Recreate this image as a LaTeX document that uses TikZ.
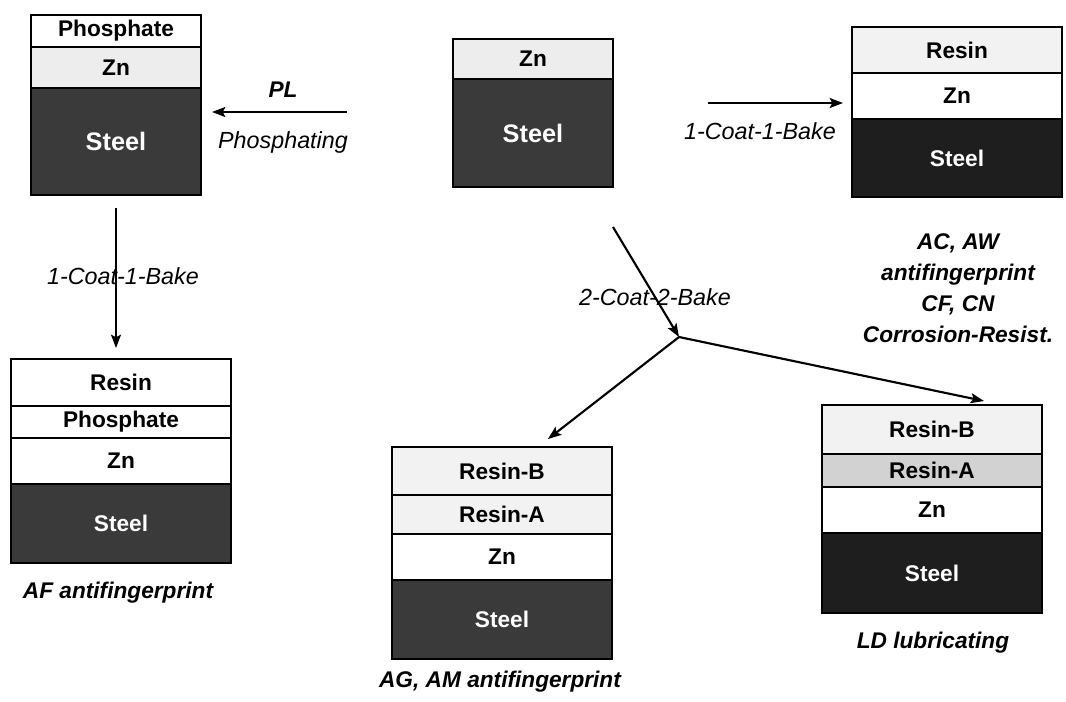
\documentclass[tikz,border=0pt]{standalone}
\usepackage{fontspec}
\setmainfont{Liberation Sans}
\usetikzlibrary{arrows.meta}
\tikzset{
  lay/.style={draw=black, line width=1.1pt, inner sep=0pt, font=\fontsize{17}{20}\selectfont\bfseries},
  conn/.style={line width=1.6pt, -{Stealth[length=10pt,width=7.5pt,inset=2pt]}},
  proc/.style={font=\fontsize{17.5}{21}\selectfont\itshape},
  capt/.style={font=\fontsize{17}{23.25}\selectfont\bfseries\itshape, align=center}
}
\definecolor{steelA}{HTML}{3A3A3A}
\definecolor{steelB}{HTML}{1E1E1E}
\definecolor{znGray}{HTML}{EDEDED}
\definecolor{resinL}{HTML}{F2F2F2}
\definecolor{resinA}{HTML}{D2D2D2}
\newcommand\layer[7]{\node[lay, fill=#6, minimum width={0.75pt*(#4-#2)}, minimum height={0.75pt*(#5-#3)}] (#1) at ({(#2+#4)/2},{(#3+#5)/2}) {#7};}
\begin{document}
\begin{tikzpicture}[x=0.75pt,y=-0.75pt]
\useasboundingbox (0,0) rectangle (1066,701);
% top-left box
\layer{tlP}{31}{15}{201}{47}{white}{Phosphate}
\layer{tlZ}{31}{47}{201}{88}{znGray}{Zn}
\layer{tlS}{31}{88}{201}{195}{steelA}{\color{white}\fontsize{19}{22}\selectfont Steel}
% top-middle box
\layer{tmZ}{453}{39}{613}{79}{znGray}{Zn}
\layer{tmS}{453}{79}{613}{187}{steelA}{\color{white}\fontsize{19}{22}\selectfont Steel}
% top-right box
\layer{trR}{852}{27}{1062}{73}{resinL}{Resin}
\layer{trZ}{852}{73}{1062}{119}{white}{Zn}
\layer{trS}{852}{119}{1062}{197}{steelB}{\color{white}Steel}
% bottom-left box
\layer{blR}{11}{359}{231}{406}{white}{Resin}
\layer{blP}{11}{406}{231}{438}{white}{Phosphate}
\layer{blZ}{11}{438}{231}{484}{white}{Zn}
\layer{blS}{11}{484}{231}{563}{steelA}{\color{white}Steel}
% bottom-middle box
\layer{bmB}{392}{447}{612}{495}{resinL}{Resin-B}
\layer{bmA}{392}{495}{612}{534}{resinL}{Resin-A}
\layer{bmZ}{392}{534}{612}{580}{white}{Zn}
\layer{bmS}{392}{580}{612}{659}{steelA}{\color{white}Steel}
% bottom-right box
\layer{brB}{822}{405}{1042}{454}{resinL}{Resin-B}
\layer{brA}{822}{454}{1042}{487}{resinA}{Resin-A}
\layer{brZ}{822}{487}{1042}{533}{white}{Zn}
\layer{brS}{822}{533}{1042}{613}{steelB}{\color{white}Steel}
% arrow coordinates
\coordinate (plS) at (347,112);
\coordinate (plE) at (212,112);
\coordinate (ccS) at (708,103);
\coordinate (ccE) at (843,103);
\coordinate (vS) at (116,208);
\coordinate (vE) at (116,348);
\coordinate (yS) at (613,227);
\coordinate (yJ) at (679,337);
\coordinate (yL) at (548,439);
\coordinate (yR) at (984,401);
\draw[conn] (plS) -- (plE);
\draw[conn] (ccS) -- (ccE);
\draw[conn] (vS) -- (vE);
\draw[conn] (yS) -- (yJ);
\draw[conn] (yJ) -- (yL);
\draw[conn] (yJ) -- (yR);
% process labels
\node[font=\fontsize{17}{20}\selectfont\bfseries\itshape] (lPL) at (283,90) {PL};
\node[proc] (lPh) at (283,142) {Phosphating};
\node[proc] (l11a) at (760,131) {1-Coat-1-Bake};
\node[proc] (l11b) at (123,276) {1-Coat-1-Bake};
\node[proc] (l22) at (655,297) {2-Coat-2-Bake};
% captions
\node[capt] (cTR) at (958,288) {AC, AW\\antifingerprint\\CF, CN\\Corrosion-Resist.};
\node[capt] (cBL) at (118,593) {AF antifingerprint};
\node[capt] (cBM) at (500,682) {AG, AM antifingerprint};
\node[capt] (cBR) at (933,643) {LD lubricating};
\end{tikzpicture}
\end{document}
